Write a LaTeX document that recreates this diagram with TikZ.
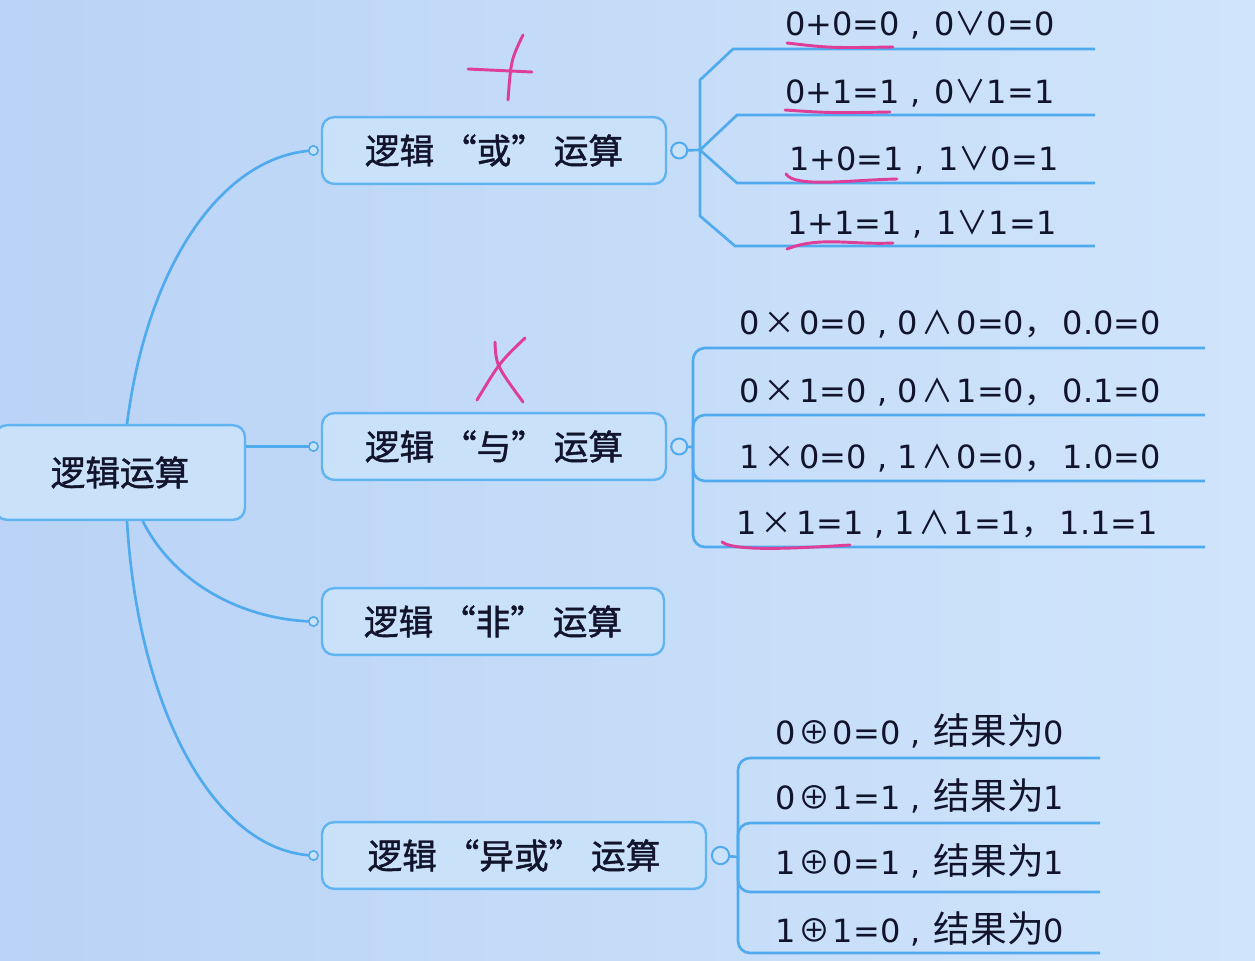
\documentclass[tikz,border=0pt]{standalone}
\usepackage{fontspec}
\setmainfont{DejaVu Sans}
\newfontfamily\cjk{Noto Sans CJK SC}
\newfontfamily\cjkb{Noto Sans CJK SC}[FakeBold=1.2]
\newcommand{\sym}[1]{{\cjk #1}}
\newcommand{\res}[1]{{\cjk\fontsize{27.5}{30}\selectfont #1}}
\usetikzlibrary{calc}
\definecolor{bgL}{RGB}{186,211,246}
\definecolor{bgR}{RGB}{208,229,251}
\definecolor{ln}{RGB}{80,170,238}
\definecolor{bx}{RGB}{96,180,242}
\definecolor{bxfill}{RGB}{202,225,250}
\definecolor{ink}{RGB}{18,20,44}
\definecolor{pen}{RGB}{222,62,152}
\begin{document}
\begin{tikzpicture}[x=0.75pt,y=-0.75pt,
 topic/.style={draw=bx, line width=1.8pt, rounded corners=9pt, fill=bxfill, text=ink,
   font=\cjkb\fontsize{26}{30}\selectfont, inner sep=0pt, minimum height=50pt},
 conn/.style={draw=ln, line width=2pt},
 knob/.style={draw=ln, line width=1.5pt, fill=bxfill},
 eq/.style={text=ink, font=\fontsize{24}{28}\selectfont, inner sep=0pt, anchor=base west},
 inkpen/.style={draw=pen, line width=2.2pt, line cap=round}
]
\shade[left color=bgL, right color=bgR] (0,0) rectangle (1255,960);
\useasboundingbox (0,0) rectangle (1255,960);

% topics
\node[topic, minimum width=187.5pt, minimum height=71pt] (root) at (120,472.5) {逻辑运算};
\node[topic, minimum width=258pt] (or) at (494,150.5) {逻辑 “或” 运算};
\node[topic, minimum width=258pt] (and) at (494,446.5) {逻辑 “与” 运算};
\node[topic, minimum width=256.5pt] (not) at (493,621.5) {逻辑 “非” 运算};
\node[topic, minimum width=288pt] (xor) at (514,855.5) {逻辑 “异或” 运算};

% attach points
\coordinate (orL) at ([xshift=-5.5pt]or.west);
\coordinate (andL) at ([xshift=-5.5pt]and.west);
\coordinate (notL) at ([xshift=-5.5pt]not.west);
\coordinate (xorL) at ([xshift=-5.5pt]xor.west);
\coordinate (orK) at ([xshift=9pt]or.east);
\coordinate (andK) at ([xshift=9pt]and.east);
\coordinate (xorK) at ([xshift=10pt]xor.east);

% root connectors
\draw[conn] ([xshift=5.25pt]root.north) .. controls (148,260) and (225,155) .. (orL);
\draw[conn] (root.east |- andL) -- (andL);
\draw[conn] ([xshift=17pt]root.south) .. controls (175,585) and (245,620) .. (notL);
\draw[conn] ([xshift=5.25pt]root.south) .. controls (138,710) and (215,852) .. (xorL);
\foreach \p in {orL,andL,notL,xorL} \draw[knob, line width=1.2pt] (\p) circle (3.5pt);

% OR branches
\coordinate (orJ) at (700,150);
\coordinate (o1) at (1095,49);
\coordinate (o2) at (1095,115);
\coordinate (o3) at (1095,183);
\coordinate (o4) at (1095,246);
\draw[conn] (orK) -- (orJ);
\draw[conn] (orJ) -- (700,80) -- (733,49) -- (o1);
\draw[conn] (orJ) -- (737,115) -- (o2);
\draw[conn] (orJ) -- (737,183) -- (o3);
\draw[conn] (orJ) -- (700,216) -- (735,246) -- (o4);
\draw[knob] (orK) circle (6pt);

% AND branches
\coordinate (andJ) at (693,447);
\coordinate (a1) at (1205,348);
\coordinate (a2) at (1205,415);
\coordinate (a3) at (1205,481);
\coordinate (a4) at (1205,547);
\draw[conn] (andK) -- (andJ);
\foreach \e in {a1,a2,a3,a4} \draw[conn, rounded corners=9pt] (andJ) |- (\e);
\draw[knob] (andK) circle (6pt);

% XOR branches
\coordinate (xorJ) at (738,857);
\coordinate (x1) at (1100,758);
\coordinate (x2) at (1100,823);
\coordinate (x3) at (1100,892);
\coordinate (x4) at (1100,953);
\draw[conn] (xorK) -- (xorJ);
\foreach \e in {x1,x2,x3,x4} \draw[conn, rounded corners=9pt] (xorJ) |- (\e);
\draw[knob] (xorK) circle (6.5pt);

% OR texts
\node[eq] (t11) at (785,36) {0+0=0 , \hspace{3pt}0\sym{∨}0=0};
\node[eq] (t12) at (785,103) {0+1=1 , \hspace{3pt}0\sym{∨}1=1};
\node[eq] (t13) at (789,170) {1+0=1 , \hspace{3pt}1\sym{∨}0=1};
\node[eq] (t14) at (787,234) {1+1=1 , \hspace{3pt}1\sym{∨}1=1};
% AND texts
\node[eq] (t21) at (739,334) {0\hspace{3pt}\sym{×}\hspace{3pt}0=0 , 0\hspace{2.5pt}\sym{∧}\hspace{2.5pt}0=0\sym{，}\hspace{5pt}0.0=0};
\node[eq] (t22) at (739,402) {0\hspace{3pt}\sym{×}\hspace{3pt}1=0 , 0\hspace{2.5pt}\sym{∧}\hspace{2.5pt}1=0\sym{，}\hspace{5pt}0.1=0};
\node[eq] (t23) at (739,468) {1\hspace{3pt}\sym{×}\hspace{3pt}0=0 , 1\hspace{2.5pt}\sym{∧}\hspace{2.5pt}0=0\sym{，}\hspace{5pt}1.0=0};
\node[eq] (t24) at (736,534) {1\hspace{3pt}\sym{×}\hspace{3pt}1=1 , 1\hspace{2.5pt}\sym{∧}\hspace{2.5pt}1=1\sym{，}\hspace{5pt}1.1=1};
% XOR texts
\node[eq] (t31) at (775,744) {0\hspace{2pt}\sym{⊕}\hspace{2pt}0=0 , \hspace{2pt}\res{结果为}0};
\node[eq] (t32) at (775,809) {0\hspace{2pt}\sym{⊕}\hspace{2pt}1=1 , \hspace{2pt}\res{结果为}1};
\node[eq] (t33) at (775,874) {1\hspace{2pt}\sym{⊕}\hspace{2pt}0=1 , \hspace{2pt}\res{结果为}1};
\node[eq] (t34) at (775,942) {1\hspace{2pt}\sym{⊕}\hspace{2pt}1=0 , \hspace{2pt}\res{结果为}0};

% handwritten marks
\draw[inkpen] (468,69) .. controls (500,70) .. (532,72);
\draw[inkpen] (523,35) .. controls (511,60) .. (508,100);
\draw[inkpen] (495,342) .. controls (496,365) .. (523,402);
\draw[inkpen] (525,338) .. controls (500,362) .. (477,400);
\draw[inkpen] (787,43) .. controls (830,48) .. (893,47);
\draw[inkpen] (785,110) .. controls (830,113) .. (890,112);
\draw[inkpen] (786,174) .. controls (795,188) and (850,180) .. (897,179);
\draw[inkpen] (787,249) .. controls (820,236) and (850,245) .. (893,243);
\draw[inkpen] (722,542) .. controls (735,552) and (800,548) .. (850,545);
\end{tikzpicture}
\end{document}
